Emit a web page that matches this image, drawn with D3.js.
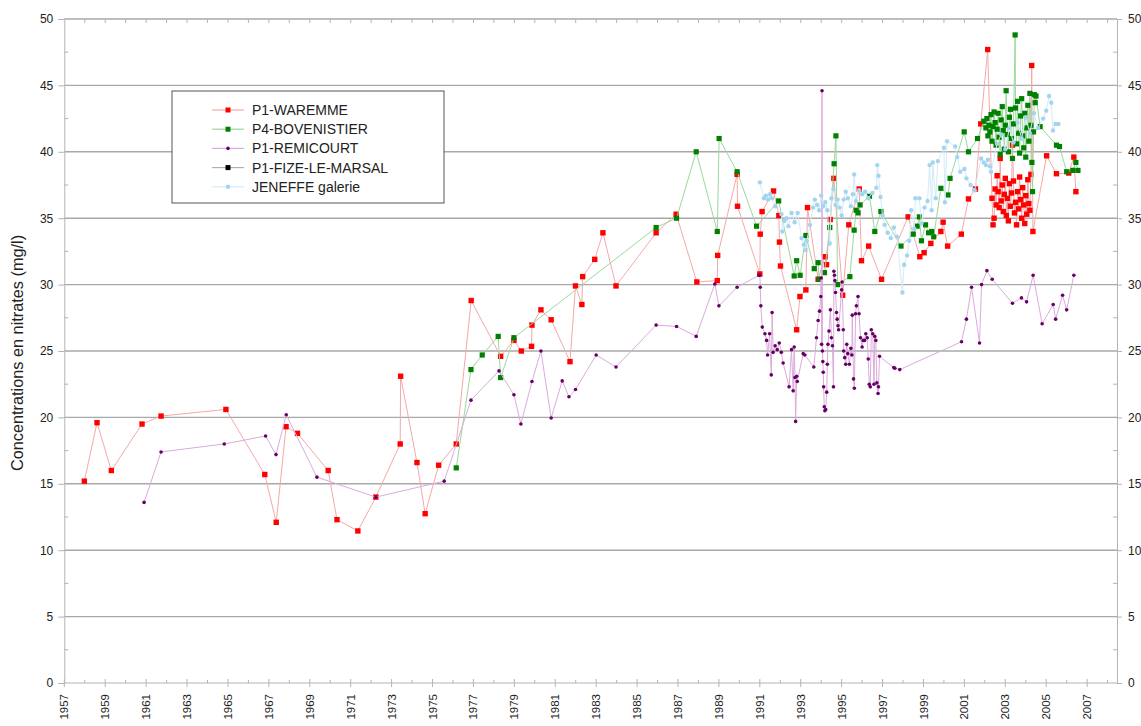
<!DOCTYPE html>
<html>
<head>
<meta charset="utf-8">
<script src="https://cdn.jsdelivr.net/npm/d3@7"></script>
<style>
  body { margin: 0; background: #fff; }
  text { font-family: "Liberation Sans", Arial, sans-serif; fill: #222; }
</style>
</head>
<body>
<script>
// nitrate series, [decimal year, mg/l]
const waremme = [
  [1957.98,15.2],[1958.6,19.6],[1959.3,16.0],[1960.8,19.5],[1961.73,20.1],[1964.9,20.6],
  [1966.8,15.7],[1967.36,12.1],[1967.84,19.3],[1968.4,18.8],[1969.9,16.0],[1970.33,12.3],
  [1971.35,11.45],[1972.23,14.0],[1973.42,18.0],[1973.44,23.1],[1974.24,16.6],[1974.64,12.75],
  [1975.3,16.4],[1976.16,18.0],[1976.89,28.8],[1978.33,24.6],[1978.98,25.8],[1979.34,25.0],
  [1979.84,25.35],[1979.86,26.95],[1980.3,28.1],[1980.8,27.35],[1981.72,24.2],[1981.99,29.9],
  [1982.3,28.5],[1982.34,30.6],[1982.93,31.9],[1983.33,33.9],[1983.97,29.9],[1985.93,33.9],
  [1986.91,35.3],[1987.92,30.2],[1988.92,30.3],[1988.94,32.2],[1989.89,38.3],[1989.91,35.9],
  [1991.0,30.8],[1991.02,33.8],[1991.11,35.5],[1991.67,37.05],[1991.93,35.2],[1991.96,33.2],
  [1992.01,31.4],[1992.8,26.6],[1992.96,29.1],[1993.25,29.6],[1993.33,35.8],[1993.85,30.4],
  [1994.18,32.1],[1994.26,31.5],[1994.44,34.9],[1994.62,38.0],[1995.05,29.2],[1995.35,34.5],
  [1995.86,37.2],[1995.97,31.8],[1996.32,32.9],[1996.95,30.4],[1998.25,35.1],[1998.82,32.1],
  [1999.03,32.4],[1999.36,33.1],[1999.85,34.0],[1999.96,34.7],[2000.18,32.9],[2000.85,33.8],
  [2001.2,36.45],[2001.54,37.2],[2001.8,42.1],[2002.14,47.7],[2002.35,36.5],[2002.4,34.5],
  [2002.45,35.0],[2002.5,37.2],[2002.55,36.0],[2002.6,38.2],[2002.65,37.0],[2002.7,35.8],
  [2002.75,39.5],[2002.8,36.3],[2002.85,37.5],[2002.9,35.5],[2002.95,36.8],[2003.0,38.0],
  [2003.05,35.2],[2003.1,36.5],[2003.15,34.8],[2003.2,37.6],[2003.25,35.9],[2003.3,36.9],
  [2003.35,40.5],[2003.4,37.8],[2003.45,35.4],[2003.5,36.2],[2003.55,34.5],[2003.6,37.0],
  [2003.65,35.7],[2003.7,38.1],[2003.75,36.4],[2003.8,35.0],[2003.85,37.3],[2003.9,36.0],
  [2003.95,34.6],[2004.0,36.7],[2004.05,35.3],[2004.1,37.9],[2004.15,36.1],[2004.2,35.6],
  [2004.25,38.3],[2004.29,46.5],[2004.35,34.0],[2005.02,39.7],[2005.5,38.35],[2006.1,38.4],
  [2006.35,39.6],[2006.45,37.0]
];

const bovenistier = [
  [1976.16,16.2],[1976.88,23.6],[1977.43,24.7],[1978.21,26.1],[1978.33,23.0],[1978.98,26.0],
  [1985.93,34.3],[1986.93,35.0],[1987.89,40.0],[1988.92,34.0],[1989.01,41.0],[1989.89,38.5],
  [1990.84,34.4],[1991.92,36.3],[1992.68,30.65],[1992.8,31.8],[1992.97,30.7],[1993.25,33.7],
  [1993.66,31.2],[1993.85,31.65],[1993.9,30.4],[1994.16,30.9],[1994.42,34.3],[1994.63,39.1],
  [1994.72,41.2],[1994.8,30.0],[1995.4,30.6],[1995.61,34.1],[1995.71,35.6],[1995.8,35.4],
  [1995.9,36.0],[1996.36,36.65],[1996.62,34.0],[1996.92,35.5],[1997.9,32.9],[1998.5,33.8],
  [1998.69,34.4],[1998.8,35.1],[1998.9,33.3],[1999.1,34.5],[1999.25,33.9],[1999.4,34.0],
  [1999.5,33.6],[1999.85,37.25],[2000.2,36.75],[2000.3,38.0],[2000.99,41.5],[2001.2,40.0],
  [2001.64,41.0],[2001.95,42.3],[2002.05,41.8],[2002.1,42.5],[2002.15,41.2],[2002.2,42.0],
  [2002.25,41.5],[2002.3,42.8],[2002.35,40.8],[2002.4,41.9],[2002.45,43.0],[2002.5,42.2],
  [2002.55,40.5],[2002.6,41.7],[2002.65,42.9],[2002.7,41.1],[2002.75,39.8],[2002.8,42.4],
  [2002.85,43.4],[2002.9,41.6],[2002.95,40.2],[2003.0,42.0],[2003.04,44.6],[2003.1,41.3],
  [2003.15,40.0],[2003.2,42.6],[2003.25,43.2],[2003.3,41.0],[2003.35,39.5],[2003.4,42.1],
  [2003.48,48.8],[2003.5,43.3],[2003.55,40.6],[2003.6,43.8],[2003.65,41.4],[2003.7,39.9],
  [2003.75,42.7],[2003.8,44.0],[2003.85,41.2],[2003.9,40.3],[2003.95,42.9],[2004.0,39.6],
  [2004.05,41.8],[2004.1,43.5],[2004.15,40.8],[2004.2,44.4],[2004.25,42.0],[2004.3,39.2],
  [2004.33,37.0],[2004.38,41.5],[2004.42,44.3],[2004.46,43.7],[2004.5,44.2],[2004.7,41.9],
  [2005.5,40.5],[2005.65,40.4],[2006.0,38.5],[2006.3,38.6],[2006.45,39.2],[2006.55,38.6]
];

const remicourt = [
  [1960.9,13.6],[1961.73,17.4],[1964.82,18.0],[1966.84,18.6],[1967.35,17.2],[1967.85,20.2],
  [1969.35,15.5],[1972.23,14.0],[1975.57,15.2],[1976.88,21.3],[1978.25,23.5],[1978.98,21.7],
  [1979.32,19.5],[1979.86,22.7],[1980.3,25.0],[1980.8,19.95],[1981.34,22.75],[1981.67,21.55],
  [1981.99,22.1],[1983.0,24.7],[1983.97,23.8],[1985.93,26.95],[1986.93,26.85],[1987.89,26.1],
  [1988.8,30.05],[1989.0,28.4],[1989.89,29.8],[1990.95,30.7],[1991.0,30.7],[1991.02,29.8],
  [1991.05,28.4],[1991.12,26.8],[1991.25,26.3],[1991.33,25.8],[1991.38,24.7],[1991.48,26.3],
  [1991.56,23.2],[1991.6,27.9],[1991.65,24.9],[1991.75,25.4],[1991.85,25.1],[1991.95,25.6],
  [1992.05,24.9],[1992.14,24.1],[1992.43,22.3],[1992.55,25.1],[1992.63,22.0],[1992.68,25.3],
  [1992.72,23.0],[1992.75,19.7],[1992.8,23.1],[1992.83,22.7],[1993.12,24.8],[1993.2,24.7],
  [1993.64,23.8],[1993.77,26.0],[1993.85,27.3],[1993.92,28.0],[1993.98,29.1],[1994.0,30.5],
  [1994.02,25.5],[1994.04,44.6],[1994.06,25.0],[1994.08,24.2],[1994.1,23.4],[1994.12,22.3],
  [1994.15,20.8],[1994.18,20.5],[1994.22,20.6],[1994.27,21.9],[1994.3,24.0],[1994.33,25.5],
  [1994.38,26.5],[1994.45,28.1],[1994.5,26.0],[1994.55,25.4],[1994.6,22.3],[1994.62,31.0],
  [1994.65,30.7],[1994.67,30.3],[1994.7,29.4],[1994.75,27.9],[1994.78,27.4],[1994.82,26.9],
  [1994.85,26.6],[1995.0,29.6],[1995.02,30.2],[1995.08,26.6],[1995.1,25.0],[1995.15,24.5],
  [1995.2,24.0],[1995.25,25.5],[1995.3,24.8],[1995.38,24.0],[1995.45,25.2],[1995.5,24.7],
  [1995.52,27.7],[1995.58,22.9],[1995.62,22.2],[1995.68,27.8],[1995.72,28.4],[1995.8,29.1],
  [1995.85,27.8],[1995.92,26.0],[1996.0,25.3],[1996.05,25.8],[1996.12,25.8],[1996.18,26.3],
  [1996.25,26.0],[1996.3,24.4],[1996.35,22.5],[1996.4,22.3],[1996.45,26.6],[1996.52,26.3],
  [1996.58,22.5],[1996.62,26.1],[1996.67,25.8],[1996.72,22.6],[1996.78,21.8],[1996.8,22.3],
  [1996.85,24.6],[1997.55,23.75],[1997.6,23.7],[1997.84,23.6],[2000.86,25.7],[2001.1,27.4],
  [2001.35,29.8],[2001.74,25.6],[2001.84,30.0],[2002.1,31.05],[2002.36,30.4],[2003.35,28.6],
  [2003.79,29.0],[2004.04,28.7],[2004.36,30.7],[2004.8,27.05],[2005.34,28.5],[2005.46,27.4],
  [2005.8,29.2],[2006.0,28.1],[2006.35,30.7]
];

const fizeLeMarsal = [];

const jeneffe = [
  [1991.0,37.7],[1991.2,36.5],[1991.3,36.7],[1991.4,36.4],[1991.5,36.8],[1991.6,36.5],
  [1991.75,35.9],[1992.06,35.3],[1992.1,34.0],[1992.2,34.8],[1992.3,35.0],[1992.4,34.4],
  [1992.55,35.4],[1992.7,34.7],[1992.85,35.4],[1993.04,33.5],[1993.15,33.0],[1993.24,32.6],
  [1993.3,33.3],[1993.45,34.5],[1993.6,35.8],[1993.69,36.4],[1993.8,36.0],[1993.9,35.6],
  [1994.0,36.7],[1994.1,35.9],[1994.2,36.2],[1994.3,35.6],[1994.42,33.1],[1994.5,36.5],
  [1994.6,37.2],[1994.7,36.0],[1994.8,36.4],[1994.9,35.8],[1995.0,35.2],[1995.1,36.4],
  [1995.2,37.0],[1995.3,36.5],[1995.45,35.9],[1995.55,36.8],[1995.61,38.3],[1995.7,36.3],
  [1995.85,37.1],[1996.0,36.8],[1996.15,37.0],[1996.3,36.5],[1996.5,36.9],[1996.7,37.3],
  [1996.74,39.0],[1996.8,38.2],[1996.9,36.6],[1997.0,35.2],[1997.1,34.5],[1997.25,33.9],
  [1997.4,33.5],[1997.55,34.3],[1997.7,33.6],[1997.97,29.4],[1998.05,31.5],[1998.2,32.2],
  [1998.3,33.3],[1998.4,35.6],[1998.55,34.2],[1998.6,36.5],[1998.8,36.5],[1998.9,34.6],
  [1999.05,35.8],[1999.2,36.3],[1999.3,39.0],[1999.4,35.6],[1999.45,39.2],[1999.6,36.5],
  [1999.7,39.3],[2000.0,40.3],[2000.05,36.2],[2000.15,40.8],[2000.55,40.4],[2000.65,39.6],
  [2000.8,38.5],[2001.0,38.7],[2001.1,38.0],[2001.3,37.5],[2001.5,37.1],[2001.82,39.5],
  [2001.95,39.2],[2002.05,39.0],[2002.15,39.4],[2002.25,38.9],[2002.3,38.5],[2002.6,40.6],
  [2002.8,41.3],[2003.0,40.2],[2003.2,41.8],[2003.4,40.7],[2003.6,42.2],[2003.8,41.0],
  [2004.0,42.6],[2004.2,41.4],[2004.4,42.9],[2004.6,41.8],[2004.85,42.5],[2005.0,43.1],
  [2005.14,44.2],[2005.25,43.7],[2005.33,41.6],[2005.45,42.1],[2005.6,42.1]
];

const seriesNames = ["P1-WAREMME", "P4-BOVENISTIER", "P1-REMICOURT", "P1-FIZE-LE-MARSAL", "JENEFFE galerie"];
const yTicks = [0, 5, 10, 15, 20, 25, 30, 35, 40, 45, 50];
const yearLabels = d3.range(1957, 2008, 2);
const yearMinor = d3.range(1958, 2009, 2);

const width = 1141, height = 726;
const svg = d3.select("body").append("svg")
    .attr("width", width)
    .attr("height", height);

const x = d3.scaleLinear().domain([1957, 2008.46]).range([64.3, 1117]);
const y = d3.scaleLinear().domain([0, 50]).range([683, 19]);

// horizontal grid
svg.append("g").selectAll("line")
    .data(yTicks.filter(d => d > 0))
    .enter().append("line")
    .attr("x1", x.range()[0]).attr("x2", x.range()[1])
    .attr("y1", d => y(d)).attr("y2", d => y(d))
    .style("stroke", "#a8a8a8").style("stroke-width", 1.4);

const axisColor = "#b4b4b4";

// left axis
const left = svg.append("g").attr("transform", `translate(${x.range()[0]},0)`)
    .call(d3.axisLeft(y).tickValues(yTicks).tickSize(6).tickPadding(5));
// right axis
const right = svg.append("g").attr("transform", `translate(${x.range()[1]},0)`)
    .call(d3.axisRight(y).tickValues(yTicks).tickSize(5).tickPadding(6));
[left, right].forEach(g => {
  g.select(".domain").style("stroke", axisColor);
  g.selectAll(".tick line").style("stroke", axisColor);
  g.selectAll(".tick text").style("font-size", "12px").style("fill", "#222");
});

// minor y ticks, pointing inwards
const yMinor = d3.range(2.5, 50, 5);
svg.append("g").selectAll("line").data(yMinor).enter().append("line")
    .attr("x1", x.range()[0]).attr("x2", x.range()[0] + 4)
    .attr("y1", d => y(d)).attr("y2", d => y(d)).style("stroke", axisColor);
svg.append("g").selectAll("line").data(yMinor).enter().append("line")
    .attr("x1", x.range()[1] - 4).attr("x2", x.range()[1])
    .attr("y1", d => y(d)).attr("y2", d => y(d)).style("stroke", axisColor);

// bottom axis
svg.append("line")
    .attr("x1", x.range()[0]).attr("x2", x.range()[1])
    .attr("y1", y(0)).attr("y2", y(0)).style("stroke", axisColor);
svg.append("g").selectAll("line").data(yearLabels).enter().append("line")
    .attr("x1", d => x(d)).attr("x2", d => x(d))
    .attr("y1", y(0) - 4).attr("y2", y(0) + 4).style("stroke", axisColor);
svg.append("g").selectAll("line").data(yearMinor).enter().append("line")
    .attr("x1", d => x(d)).attr("x2", d => x(d))
    .attr("y1", y(0) - 3).attr("y2", y(0)).style("stroke", axisColor);
svg.append("g").selectAll("text").data(yearLabels).enter().append("text")
    .attr("transform", d => `translate(${x(d)},${y(0) + 11}) rotate(-90)`)
    .attr("text-anchor", "end")
    .attr("dy", "0.35em")
    .style("font-size", "11.5px")
    .text(d => d);

// top ticks
svg.append("g").selectAll("line").data(d3.range(1958, 2009)).enter().append("line")
    .attr("x1", d => x(d)).attr("x2", d => x(d))
    .attr("y1", y(50)).attr("y2", y(50) + 4).style("stroke", axisColor);

// y label
svg.append("text")
    .attr("transform", `translate(23,${(y(0) + y(50)) / 2 + 2}) rotate(-90)`)
    .attr("text-anchor", "middle")
    .style("font-size", "16.3px")
    .text("Concentrations en nitrates (mg/l)");

const styles = [
  { data: waremme, line: "#f5a8a8", fill: "#ff0000", shape: "square", size: 5.4 },
  { data: bovenistier, line: "#9cd89c", fill: "#008000", shape: "square", size: 5.2 },
  { data: remicourt, line: "#dcaadc", fill: "#660066", shape: "circle", size: 3.6 },
  { data: fizeLeMarsal, line: "#b0b0b0", fill: "#000000", shape: "square", size: 5 },
  { data: jeneffe, line: "#d3ebf8", fill: "#a3d4f0", shape: "circle", size: 4.4 }
];

const line = d3.line().x(d => x(d[0])).y(d => y(d[1]));

styles.forEach(s => {
  const g = svg.append("g");
  g.append("path").datum(s.data)
      .attr("d", line)
      .style("fill", "none")
      .style("stroke", s.line)
      .style("stroke-width", 1);
  if (s.shape === "square") {
    g.selectAll("rect").data(s.data).enter().append("rect")
        .attr("x", d => x(d[0]) - s.size / 2)
        .attr("y", d => y(d[1]) - s.size / 2)
        .attr("width", s.size).attr("height", s.size)
        .style("fill", s.fill);
  } else {
    g.selectAll("circle").data(s.data).enter().append("circle")
        .attr("cx", d => x(d[0])).attr("cy", d => y(d[1]))
        .attr("r", s.size / 2)
        .style("fill", s.fill);
  }
});

// legend
const legend = svg.append("g").attr("transform", "translate(172,91)");
legend.append("rect")
    .attr("width", 272).attr("height", 112)
    .style("fill", "#fff").style("stroke", "#555").style("stroke-width", 1);
seriesNames.forEach((name, i) => {
  const s = styles[i];
  const ly = 19 + i * 19.2;
  legend.append("line")
      .attr("x1", 40).attr("x2", 72).attr("y1", ly).attr("y2", ly)
      .style("stroke", s.line).style("stroke-width", 1.2);
  if (s.shape === "square") {
    legend.append("rect").attr("x", 56 - 2.5).attr("y", ly - 2.5)
        .attr("width", 5).attr("height", 5).style("fill", s.fill);
  } else {
    legend.append("circle").attr("cx", 56).attr("cy", ly).attr("r", s.size / 2)
        .style("fill", s.fill);
  }
  legend.append("text")
      .attr("x", 80).attr("y", ly).attr("dy", "0.36em")
      .style("font-size", "14px")
      .text(name);
});
</script>
</body>
</html>
